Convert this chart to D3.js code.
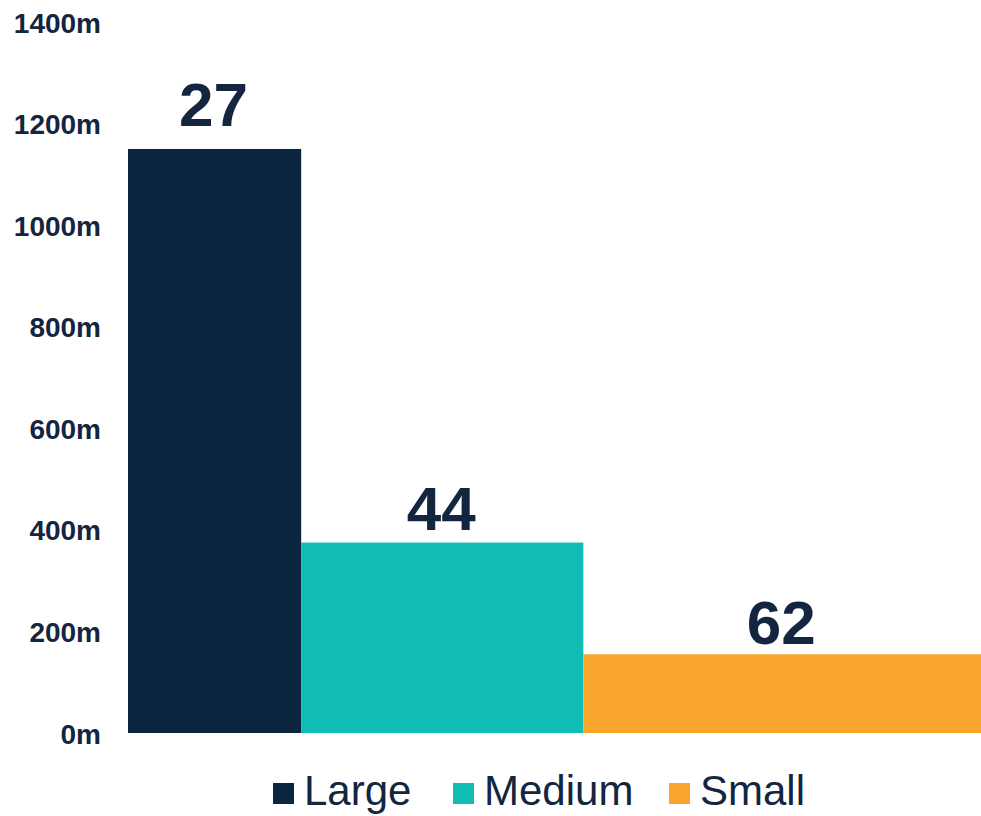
<!DOCTYPE html>
<html>
<head>
<meta charset="utf-8">
<script src="https://cdn.jsdelivr.net/npm/d3@7"></script>
<style>
  body { margin: 0; background: #fff; }
  text { font-family: "Liberation Sans", Arial, Helvetica, sans-serif; fill: #13253f; }
</style>
</head>
<body>
<script>
// segment data: count sets the bar width, value (in m) sets the height
const categories = ["Large", "Medium", "Small"];
const counts = [27, 44, 62];
const values = [1150, 375, 155];
const colors = ["#0d2640", "#10bdb5", "#f9a42a"];
const yTicks = [0, 200, 400, 600, 800, 1000, 1200, 1400];

// gap between bar top and its label baseline
const labelGap = [23, 13, 10];

function main(){
    const width = 981;
    const height = 816;

    const svg = d3.select("body").append("svg")
        .attr("width", width)
        .attr("height", height);

    const total = d3.sum(counts);
    let acc = 0;
    const segs = categories.map(function(c, i){
        const s = {name: c, count: counts[i], value: values[i], color: colors[i], x0: acc, gap: labelGap[i]};
        acc += counts[i];
        s.x1 = acc;
        return s;
    });

    const x = d3.scaleLinear().domain([0, total]).range([128, 981]);
    const y = d3.scaleLinear().domain([0, 1400]).range([733, 22]);

    // y axis, labels only
    const yAxis = svg.append("g")
        .attr("transform", "translate(101,0)")
        .call(d3.axisLeft(y).tickValues(yTicks).tickSize(0).tickPadding(0)
            .tickFormat(function(d){ return d + "m"; }));
    yAxis.select(".domain").remove();
    yAxis.selectAll("text")
        .style("font-family", "'Liberation Sans', Arial, sans-serif")
        .style("font-size", "28px")
        .style("font-weight", "bold")
        .attr("fill", "#13253f")
        .attr("dy", "0.36em");

    svg.selectAll(".bar")
        .data(segs)
        .enter().append("rect")
        .attr("class", "bar")
        .attr("x", function(d){ return x(d.x0); })
        .attr("width", function(d){ return x(d.x1) - x(d.x0); })
        .attr("y", function(d){ return y(d.value); })
        .attr("height", function(d){ return y(0) - y(d.value); })
        .attr("fill", function(d){ return d.color; });

    // count labels on top of each bar
    svg.selectAll(".lbl")
        .data(segs)
        .enter().append("text")
        .attr("class", "lbl")
        .attr("x", function(d){ return (x(d.x0) + x(d.x1)) / 2 - 1; })
        .attr("y", function(d){ return y(d.value) - d.gap; })
        .attr("text-anchor", "middle")
        .style("font-size", "62px")
        .style("font-weight", "bold")
        .text(function(d){ return d.count; });

    // legend
    const legX = [273, 453, 669];
    const leg = svg.selectAll(".leg")
        .data(segs)
        .enter().append("g")
        .attr("class", "leg")
        .attr("transform", function(d, i){ return "translate(" + legX[i] + ",783)"; });
    leg.append("rect")
        .attr("width", 21)
        .attr("height", 21)
        .attr("fill", function(d){ return d.color; });
    leg.append("text")
        .attr("x", 31)
        .attr("y", 22)
        .style("font-size", "42px")
        .text(function(d){ return d.name; });
}
main();
</script>
</body>
</html>
